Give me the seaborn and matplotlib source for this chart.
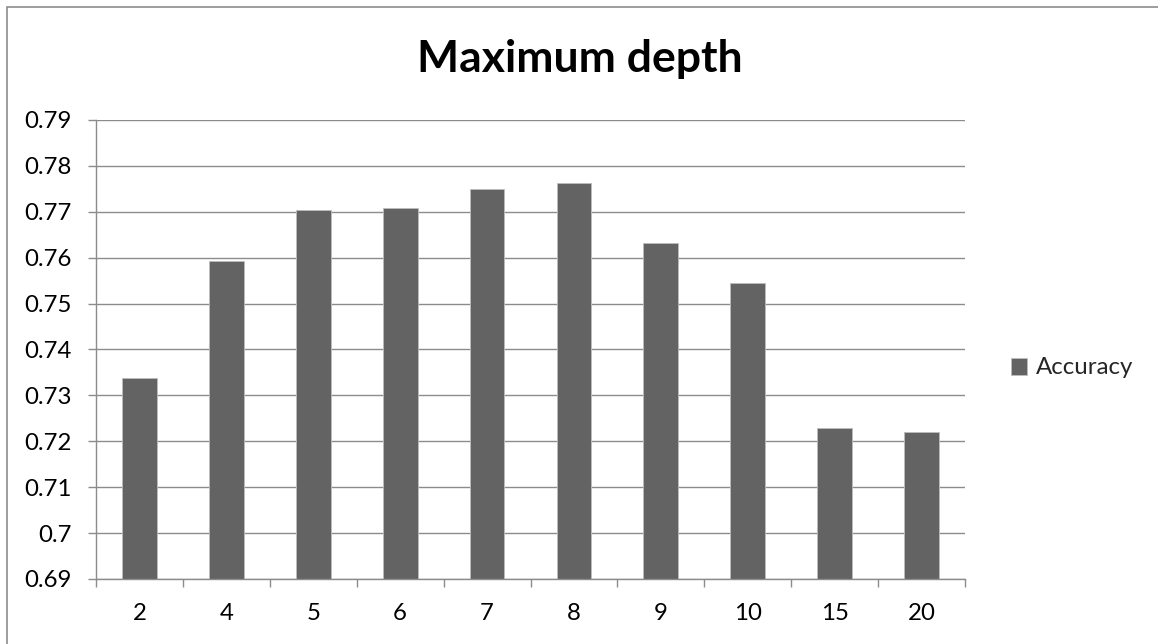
import matplotlib
matplotlib.use("Agg")
import matplotlib.pyplot as plt
import seaborn as sns
import pandas as pd
from matplotlib.patches import Rectangle

# Accuracy by maximum tree depth
depths = ["2", "4", "5", "6", "7", "8", "9", "10", "15", "20"]
accuracy = [0.7338, 0.7593, 0.7703, 0.7709, 0.7750, 0.7762, 0.7631, 0.7544, 0.7229, 0.7220]
y_ticks = [0.69, 0.70, 0.71, 0.72, 0.73, 0.74, 0.75, 0.76, 0.77, 0.78, 0.79]
y_tick_labels = ["0.69", "0.7", "0.71", "0.72", "0.73", "0.74", "0.75", "0.76", "0.77", "0.78", "0.79"]

df = pd.DataFrame({"depth": depths, "Accuracy": accuracy})

sns.set_style("white")
plt.rcParams["font.family"] = ["Lato", "DejaVu Sans"]

W, H = 1158, 644
fig = plt.figure(figsize=(W / 100, H / 100), dpi=100)

# chart frame
fig.patches.append(Rectangle((7 / W, -0.1), 1.2, (H - 7) / H + 0.1, transform=fig.transFigure,
                             fill=False, edgecolor="#8c8c8c", linewidth=1.2))

left, right, top, bottom = 96, 965, 120, 579
ax = fig.add_axes([left / W, 1 - bottom / H, (right - left) / W, (bottom - top) / H])

bar_color = "#636363"
sns.barplot(data=df, x="depth", y="Accuracy", order=depths, color=bar_color,
            width=0.4, saturation=1, ax=ax, label="Accuracy")
for p in ax.patches:
    p.set_edgecolor("#bdbdbd")
    p.set_linewidth(0.6)

ax.set_ylim(0.69, 0.79)
ax.set_xlim(-0.5, len(depths) - 0.5)
ax.set_yticks(y_ticks)
ax.set_yticklabels(y_tick_labels)
ax.set_xlabel("")
ax.set_ylabel("")

grid_color = "#8c8c8c"
ax.yaxis.grid(True, color=grid_color, linewidth=1.0)
ax.set_axisbelow(True)
for s in ["top", "right"]:
    ax.spines[s].set_visible(False)
for s in ["left", "bottom"]:
    ax.spines[s].set_color(grid_color)
    ax.spines[s].set_linewidth(1.0)

label_size = 17.3
ax.tick_params(axis="y", which="major", length=5.8, width=1, color=grid_color,
               labelsize=label_size, labelcolor="black", pad=12, direction="out", left=True)
# category boundaries carry the tick marks; labels sit under the bars
ax.set_xticks([i - 0.5 for i in range(len(depths) + 1)], minor=True)
ax.tick_params(axis="x", which="minor", length=5.8, width=1, color=grid_color, direction="out", bottom=True)
ax.tick_params(axis="x", which="major", length=0, labelsize=label_size, labelcolor="black", pad=17)

fig.text(580 / W, 1 - 59 / H, "Maximum depth", ha="center", va="center",
         fontsize=32, fontweight="bold", color="black")

leg = ax.legend(loc="center left", bbox_to_anchor=(1001 / W, 1 - 368 / H),
                bbox_transform=fig.transFigure, frameon=False, fontsize=label_size,
                handlelength=0.7, handleheight=0.7, handletextpad=0.35, borderaxespad=0)

fig.savefig("out.png", dpi=100, facecolor="white")
